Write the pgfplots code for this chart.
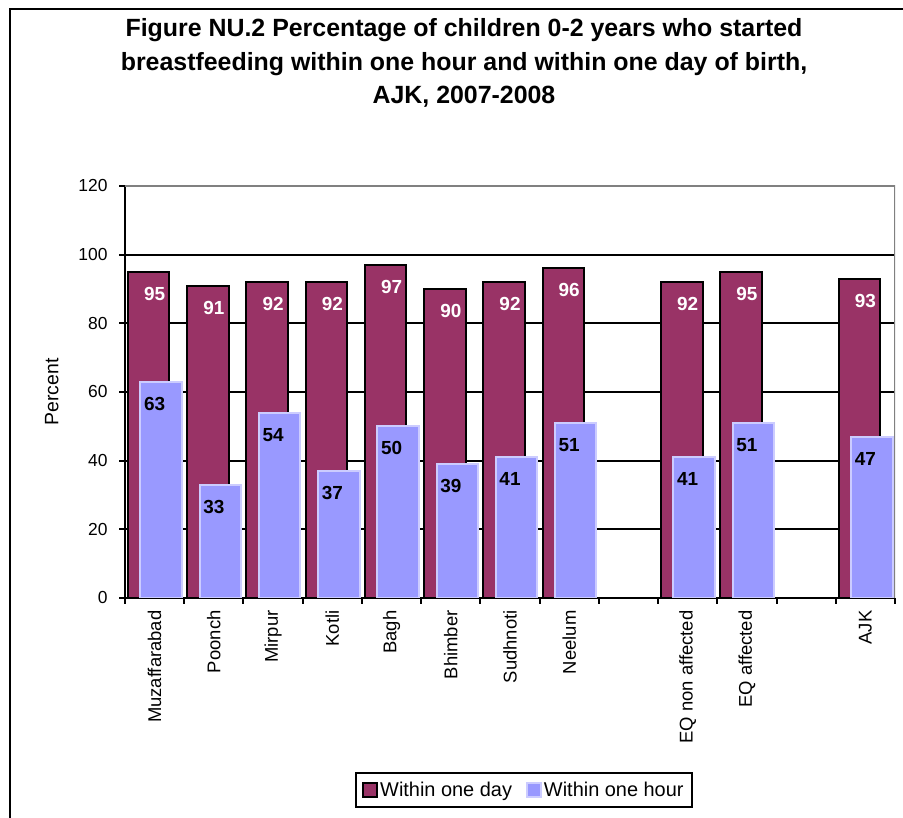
\documentclass[border=0pt]{standalone}
\usepackage{pgfplots}
\pgfplotsset{compat=1.18}
\usepackage{fontspec}
\setmainfont{Liberation Sans}
\definecolor{maroonbar}{HTML}{993366}
\definecolor{lavbar}{HTML}{9999FF}
\definecolor{lavedge}{HTML}{CCCCFF}
\definecolor{plotgray}{HTML}{808080}
\begin{document}
\begin{tikzpicture}[x=1bp,y=1bp]
\path[use as bounding box] (0,0) rectangle (903,818);
\draw[line width=2.5bp] (10,0) -- (10,809) -- (903,809);
\node[align=center, font=\bfseries\fontsize{25}{33.5}\selectfont] at (464,755)
  {Figure NU.2 Percentage of children 0-2 years who started\\breastfeeding within one hour and within one day of birth,\\AJK, 2007-2008};
\begin{axis}[
  at={(125bp,220bp)}, anchor=south west,
  width=770bp, height=412bp, scale only axis,
  xmin=-0.5, xmax=12.5, ymin=0, ymax=120,
  axis lines=left, axis line style={-, line width=2.5bp, black},
  ytick={0,20,...,120},
  ymajorgrids, major grid style={line width=2.2bp, black},
  tick style={line width=2bp, black},
  major tick length=6bp, tick align=outside,
  xtick={-0.5,0.5,...,12.5},
  xticklabels={},
  extra x ticks={0,1,2,3,4,5,6,7,9,10,12},
  extra x tick labels={Muzaffarabad,Poonch,Mirpur,Kotli,Bagh,Bhimber,Sudhnoti,Neelum,EQ non affected,EQ affected,AJK},
  extra x tick style={major tick length=0pt},
  x tick label style={yshift=-9bp, rotate=90, anchor=east, font=\fontsize{18.5}{20}\selectfont},
  y tick label style={xshift=-8bp, font=\fontsize{17.5}{20}\selectfont},
  /pgf/number format/assume math mode=true,
  ylabel={Percent},
  ylabel style={at={(axis description cs:-0.095,0.5)}, anchor=center, font=\fontsize{19.5}{22}\selectfont},
  legend style={at={(0.518,-0.466)}, anchor=center, legend columns=2, draw=black, line width=2bp,
    font=\fontsize{20}{22}\selectfont, inner xsep=6bp, inner ysep=7bp,
    /tikz/every even column/.append style={column sep=12bp}},
]
\addplot[ybar, bar width=0.7, bar shift=-0.1, fill=maroonbar, draw=black, line width=2bp,
  legend image code/.code={\draw[fill=maroonbar, draw=black, line width=2bp] (0bp,-7bp) rectangle (14bp,7bp);},
  nodes near coords,
  every node near coord/.append style={font=\bfseries\fontsize{19}{20}\selectfont, text=white, anchor=center, yshift=-22bp}]
  coordinates {(0,95) (1,91) (2,92) (3,92) (4,97) (5,90) (6,92) (7,96) (9,92) (10,95) (12,93)};
\addplot[ybar, bar width=0.7, bar shift=0.11, fill=lavbar, draw=lavedge, line width=2bp,
  legend image code/.code={\draw[fill=lavbar, draw=lavedge, line width=2bp] (0bp,-7bp) rectangle (14bp,7bp);},
  nodes near coords,
  every node near coord/.append style={font=\bfseries\fontsize{19}{20}\selectfont, text=black, anchor=center, yshift=-22bp}]
  coordinates {(0,63) (1,33) (2,54) (3,37) (4,50) (5,39) (6,41) (7,51) (9,41) (10,51) (12,47)};
\draw[plotgray, line width=2bp] (axis cs:-0.5,120) -- (axis cs:12.5,120) -- (axis cs:12.5,0);
\legend{Within one day, Within one hour}
\end{axis}
\end{tikzpicture}
\end{document}
